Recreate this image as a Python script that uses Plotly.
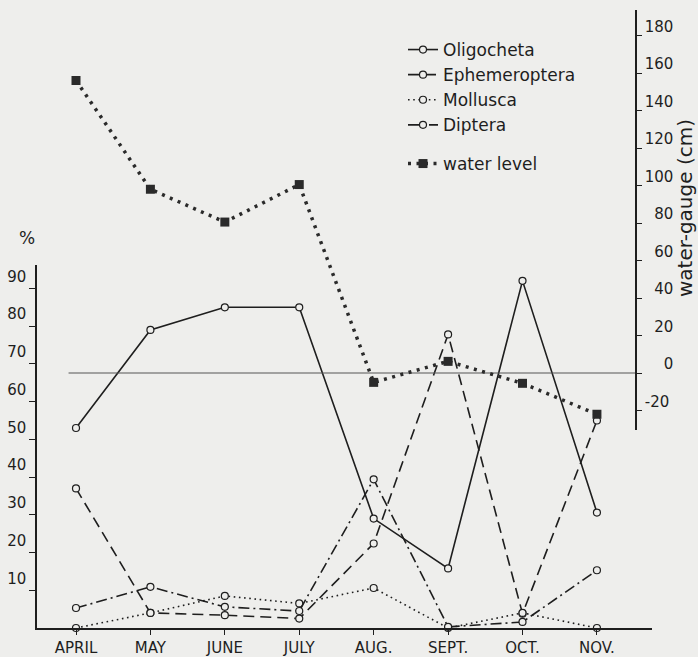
import plotly.graph_objects as go

months = ["APRIL", "MAY", "JUNE", "JULY", "AUG.", "SEPT.", "OCT.", "NOV."]
oligocheta = [53, 79, 85, 85, 29, 15.8, 92, 30.6]
ephemeroptera = [37, 4, 3.4, 2.5, 22.4, 77.8, 3.8, 55]
mollusca = [0, 4, 8.5, 6.5, 10.6, 0, 4, 0]
diptera = [5.3, 10.9, 5.6, 4.5, 39.4, 0.3, 1.6, 15.3]
water_level = [156, 98, 80.5, 100.5, -5, 6.2, -5.5, -22]

pct_ticks = [10, 20, 30, 40, 50, 60, 70, 80, 90]
cm_ticks = [-20, 0, 20, 40, 60, 80, 100, 120, 140, 160, 180]

BG = "#eeeeec"
INK = "#1e1e1e"
FONT = "DejaVu Sans"

W, H = 698, 657
L, R, T, B = 37, 46, 10, 29
pw, ph = W - L - R, H - T - B

def py(pix):  # pixel row -> paper y
    return (H - B - pix) / ph

def px(pix):
    return (pix - L) / pw

xs = list(range(len(months)))

fig = go.Figure()

species = [
    ("Oligocheta", oligocheta, "solid"),
    ("Ephemeroptera", ephemeroptera, "11px,6px"),
    ("Mollusca", mollusca, "1.6px,3.6px"),
    ("Diptera", diptera, "11px,4px,2px,4px"),
]
for i, (name, vals, dash) in enumerate(species):
    fig.add_trace(go.Scatter(
        x=xs, y=vals, name=name, mode="lines+markers",
        line=dict(color=INK, width=1.6, dash=dash),
        marker=dict(symbol="circle", size=7, color=BG,
                    line=dict(color=INK, width=1.2)),
        cliponaxis=False, legendgroup=f"g{i}", legend="legend",
    ))

fig.add_trace(go.Scatter(
    x=xs, y=water_level, name="water level", mode="lines+markers",
    yaxis="y2",
    line=dict(color="#2a2a2a", width=3.5, dash="3px,5.5px"),
    marker=dict(symbol="square", size=9, color="#2a2a2a"),
    cliponaxis=False, legend="legend2",
))

right_pos = px(636)

fig.add_shape(type="line", xref="x", yref="y2", x0=-0.1, x1=7.53, y0=0, y1=0,
              line=dict(color="#555", width=1), layer="below")

fig.update_layout(
    template="none",
    width=W, height=H,
    margin=dict(l=L, r=R, t=T, b=B, pad=0, autoexpand=False),
    paper_bgcolor=BG, plot_bgcolor="rgba(0,0,0,0)",
    font=dict(family=FONT, color=INK, size=14),
    showlegend=True,
    xaxis=dict(
        domain=[0, 1], range=[-0.524, 7.74], tickvals=xs, ticktext=months,
        showgrid=False, zeroline=False, showline=True, linecolor=INK, linewidth=1.5,
        ticks="outside", ticklen=5, tickcolor=INK, tickwidth=1,
        tickfont=dict(size=15), anchor="y", automargin=False,
    ),
    yaxis=dict(
        domain=[0, py(265)], range=[0, (627.7 - 265) / 3.77],
        tickvals=pct_ticks, showgrid=False, zeroline=False,
        showline=True, linecolor=INK, linewidth=1.5,
        ticks="outside", ticklen=6, tickcolor=INK, tickwidth=1,
        ticklabelshift=-12, tickfont=dict(size=15), anchor="x", automargin=False,
    ),
    yaxis2=dict(
        domain=[py(430), 1], range=[-(430 - 373) / 1.875, (373 - 10) / 1.875],
        tickvals=cm_ticks,
        ticktext=[("\u2007" * (3 - len(str(v))) + str(v)) if v >= 0 else str(v) for v in cm_ticks],
        side="right", anchor="free", position=right_pos,
        showgrid=False, zeroline=False, showline=True, linecolor=INK, linewidth=1.5,
        ticks="outside", ticklen=5, tickcolor=INK, tickwidth=1,
        ticklabelshift=-9, tickfont=dict(size=15), automargin=False,
    ),
    legend=dict(
        x=px(403), y=py(32), xanchor="left", yanchor="top",
        bgcolor="rgba(0,0,0,0)", font=dict(size=17, color=INK),
        traceorder="grouped", tracegroupgap=0, itemwidth=30,
    ),
    legend2=dict(
        x=px(403), y=py(146), xanchor="left", yanchor="top",
        bgcolor="rgba(0,0,0,0)", font=dict(size=17, color=INK), itemwidth=30,
    ),
    annotations=[
        dict(text="%", xref="paper", yref="paper", x=px(17), y=py(238),
             showarrow=False, font=dict(size=17, color=INK)),
        dict(text="water-gauge (cm)", xref="paper", yref="paper",
             x=px(685), y=py(208), xanchor="center", yanchor="middle",
             textangle=-90, showarrow=False,
             font=dict(size=20, color=INK)),
    ],
)

fig.write_html("out.html")
